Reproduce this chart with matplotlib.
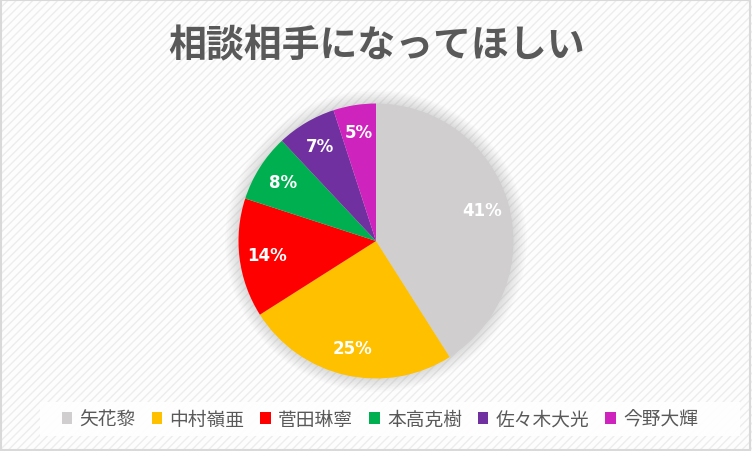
import matplotlib.pyplot as plt
from matplotlib.patches import Rectangle, Patch, Circle

plt.rcParams['font.family'] = ['Noto Sans CJK JP', 'DejaVu Sans']

# data
names = ['矢花黎', '中村嶺亜', '菅田琳寧', '本高克樹', '佐々木大光', '今野大輝']
shares = [41, 25, 14, 8, 7, 5]
colors = ['#D0CECE', '#FFC000', '#FF0000', '#00B050', '#7030A0', '#CF23BE']
title = '相談相手になってほしい'

W, H = 752, 452
fig = plt.figure(figsize=(W / 100, H / 100), dpi=100)
fig.patch.set_facecolor('white')

# striped background
bg = Rectangle((0, 0), 1, 1, transform=fig.transFigure, facecolor='#FDFDFD',
               edgecolor='#EDEDED', hatch='////', linewidth=0, zorder=-10)
fig.patches.append(bg)
# outer frame
frame = Rectangle((0.001, 0.002), 0.997, 0.995, transform=fig.transFigure,
                  fill=False, edgecolor='#D9D9D9', linewidth=1.5, zorder=-5)
fig.patches.append(frame)

# legend box
lbox = Rectangle((40 / W, 1 - 437 / H), 700 / W, 34 / H, transform=fig.transFigure,
                 facecolor='white', edgecolor='none', alpha=0.9, zorder=-4)
fig.patches.append(lbox)

fig.text(377 / W, 1 - 46 / H, title, ha='center', va='center',
         fontsize=27.3, fontweight='bold', color='#595959')

# pie axes
cx, cy, r = 376, 242, 137.5
ax = fig.add_axes([(cx - r) / W, (H - cy - r) / H, 2 * r / W, 2 * r / H])

# soft shadow around the pie
for k in range(8):
    ax.add_patch(Circle((0, 0), 1.0 + 0.012 * (k + 1), color='#808080',
                        alpha=0.03, lw=0, clip_on=False, zorder=0))

wedges, texts, autotexts = ax.pie(
    shares, colors=colors, startangle=90, counterclock=False,
    autopct='%d%%', pctdistance=0.8, radius=1.0,
    wedgeprops=dict(linewidth=0),
    textprops=dict(color='white', fontsize=12, fontweight='bold',
                   family=['DejaVu Sans']))
for w in wedges:
    w.set_zorder(2)
ax.set_xlim(-1, 1)
ax.set_ylim(-1, 1)
ax.set_axis_off()

handles = [Patch(facecolor=c, edgecolor='none') for c in colors]
leg = fig.legend(handles, names, loc='center', ncol=6,
                 bbox_to_anchor=(380 / W, 1 - 420 / H), frameon=False,
                 fontsize=13.5, handlelength=0.55, handleheight=0.55,
                 handletextpad=0.4, columnspacing=0.85)
for t in leg.get_texts():
    t.set_color('#595959')

fig.savefig('out.png', dpi=100)
